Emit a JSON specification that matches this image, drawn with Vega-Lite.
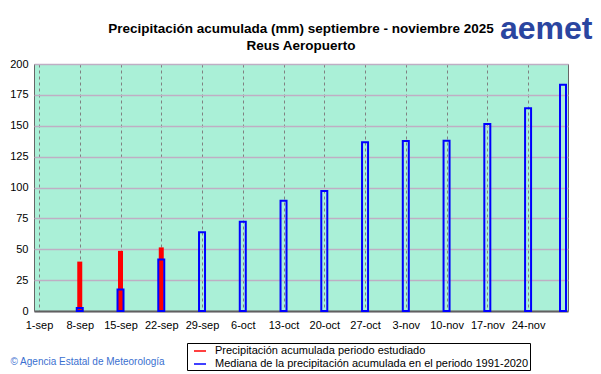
{
  "$schema": "https://vega.github.io/schema/vega-lite/v6.json",
  "width": 534,
  "height": 247,
  "autosize": {"type": "none"},
  "padding": {"left": 34, "top": 64, "right": 33, "bottom": 63},
  "background": "#ffffff",
  "title": {
    "text": ["Precipitación acumulada (mm) septiembre - noviembre 2025", "Reus Aeropuerto"],
    "fontSize": 13.5,
    "fontWeight": "bold",
    "font": "Liberation Sans",
    "color": "#000000",
    "anchor": "middle",
    "frame": "group",
    "offset": -40,
    "lineHeight": 17
  },
  "data": {
    "values": [
      {"fecha": "2025-09-08", "serie": "Precipitación acumulada periodo estudiado", "valor": 40.0},
      {"fecha": "2025-09-15", "serie": "Precipitación acumulada periodo estudiado", "valor": 48.7},
      {"fecha": "2025-09-22", "serie": "Precipitación acumulada periodo estudiado", "valor": 51.5},
      {"fecha": "2025-09-08", "serie": "Mediana de la precipitación acumulada en el periodo 1991-2020", "valor": 2.5},
      {"fecha": "2025-09-15", "serie": "Mediana de la precipitación acumulada en el periodo 1991-2020", "valor": 17.5},
      {"fecha": "2025-09-22", "serie": "Mediana de la precipitación acumulada en el periodo 1991-2020", "valor": 41.8},
      {"fecha": "2025-09-29", "serie": "Mediana de la precipitación acumulada en el periodo 1991-2020", "valor": 63.8},
      {"fecha": "2025-10-06", "serie": "Mediana de la precipitación acumulada en el periodo 1991-2020", "valor": 72.3},
      {"fecha": "2025-10-13", "serie": "Mediana de la precipitación acumulada en el periodo 1991-2020", "valor": 89.3},
      {"fecha": "2025-10-20", "serie": "Mediana de la precipitación acumulada en el periodo 1991-2020", "valor": 97.2},
      {"fecha": "2025-10-27", "serie": "Mediana de la precipitación acumulada en el periodo 1991-2020", "valor": 136.6},
      {"fecha": "2025-11-03", "serie": "Mediana de la precipitación acumulada en el periodo 1991-2020", "valor": 137.6},
      {"fecha": "2025-11-10", "serie": "Mediana de la precipitación acumulada en el periodo 1991-2020", "valor": 137.9},
      {"fecha": "2025-11-17", "serie": "Mediana de la precipitación acumulada en el periodo 1991-2020", "valor": 151.4},
      {"fecha": "2025-11-24", "serie": "Mediana de la precipitación acumulada en el periodo 1991-2020", "valor": 164.1},
      {"fecha": "2025-11-30", "serie": "Mediana de la precipitación acumulada en el periodo 1991-2020", "valor": 183.2}
    ]
  },
  "encoding": {
    "x": {
      "field": "fecha",
      "type": "temporal",
      "scale": {
        "type": "utc",
        "domain": [
          {"year": 2025, "month": 9, "date": 1, "utc": true},
          {"year": 2025, "month": 11, "date": 30, "utc": true}
        ],
        "nice": false
      },
      "axis": {
        "values": [
          {"year": 2025, "month": 9, "date": 1, "utc": true},
          {"year": 2025, "month": 9, "date": 8, "utc": true},
          {"year": 2025, "month": 9, "date": 15, "utc": true},
          {"year": 2025, "month": 9, "date": 22, "utc": true},
          {"year": 2025, "month": 9, "date": 29, "utc": true},
          {"year": 2025, "month": 10, "date": 6, "utc": true},
          {"year": 2025, "month": 10, "date": 13, "utc": true},
          {"year": 2025, "month": 10, "date": 20, "utc": true},
          {"year": 2025, "month": 10, "date": 27, "utc": true},
          {"year": 2025, "month": 11, "date": 3, "utc": true},
          {"year": 2025, "month": 11, "date": 10, "utc": true},
          {"year": 2025, "month": 11, "date": 17, "utc": true},
          {"year": 2025, "month": 11, "date": 24, "utc": true}
        ],
        "labelExpr": "lower(utcFormat(datum.value, '%-d-%b'))",
        "grid": true,
        "gridDash": [3, 3],
        "gridColor": "#808080",
        "gridWidth": 1,
        "ticks": false,
        "domainColor": "#606060",
        "domainWidth": 2,
        "labelPadding": 8,
        "labelFontSize": 11,
        "labelFont": "Liberation Sans",
        "labelColor": "#000000",
        "labelFlush": false,
        "labelOverlap": false,
        "title": "© Agencia Estatal de Meteorología",
        "titleX": -24,
        "titleY": 53,
        "titleAlign": "left",
        "titleAnchor": "start",
        "titleBaseline": "alphabetic",
        "titleFontSize": 10,
        "titleFontWeight": "normal",
        "titleFont": "Liberation Sans",
        "titleColor": "#3a6fd0"
      }
    },
    "y": {
      "field": "valor",
      "type": "quantitative",
      "scale": {"domain": [0, 200], "nice": false},
      "axis": {
        "values": [0, 25, 50, 75, 100, 125, 150, 175, 200],
        "grid": true,
        "gridColor": "#bfaec4",
        "gridWidth": 1.5,
        "ticks": false,
        "domain": false,
        "labelPadding": 6,
        "labelFontSize": 11,
        "labelFont": "Liberation Sans",
        "labelColor": "#000000",
        "title": "aemet",
        "titleAngle": 0,
        "titleX": 558,
        "titleY": -26,
        "titleAlign": "right",
        "titleBaseline": "alphabetic",
        "titleFontSize": 32,
        "titleFontWeight": "bold",
        "titleFont": "Liberation Sans",
        "titleColor": "#2a45a0"
      }
    },
    "color": {
      "field": "serie",
      "type": "nominal",
      "scale": {
        "domain": ["Precipitación acumulada periodo estudiado", "Mediana de la precipitación acumulada en el periodo 1991-2020"],
        "range": ["#ff0000", "#0000ff"]
      },
      "legend": {
        "title": null,
        "orient": "none",
        "legendX": 153,
        "legendY": 279,
        "direction": "vertical",
        "symbolType": "stroke",
        "symbolSize": 144,
        "symbolStrokeWidth": 1.5,
        "symbolOffset": 5,
        "labelOffset": 8,
        "labelFontSize": 11,
        "labelFont": "Liberation Sans",
        "labelColor": "#000000",
        "labelLimit": 600,
        "padding": 1,
        "rowPadding": 1,
        "fillColor": "#ffffff",
        "strokeColor": "#000000",
        "encode": {
          "symbols": {
            "update": {
              "stroke": {"scale": "color", "field": "value"},
              "strokeWidth": {"value": 1.5}
            }
          }
        }
      }
    }
  },
  "layer": [
    {
      "transform": [{"filter": "datum.serie === 'Precipitación acumulada periodo estudiado'"}],
      "mark": {"type": "bar", "size": 5, "filled": true}
    },
    {
      "transform": [{"filter": "datum.serie === 'Mediana de la precipitación acumulada en el periodo 1991-2020'"}],
      "mark": {"type": "bar", "size": 6, "filled": false, "strokeWidth": 2}
    }
  ],
  "config": {
    "font": "Liberation Sans",
    "view": {"fill": "#aaf0d7", "stroke": "#666666", "strokeWidth": 1}
  }
}
